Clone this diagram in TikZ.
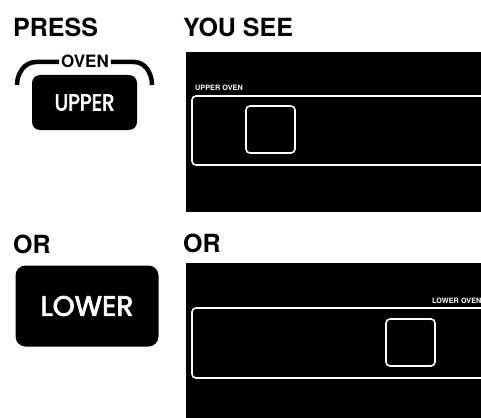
\documentclass[tikz,border=0pt]{standalone}
\usepackage{fontspec}
\setmainfont{TeX Gyre Heros}
\newfontfamily\keyfont[FakeBold=3]{Poppins}
\newfontfamily\narrowkey[FakeBold=3,FakeStretch=0.88]{Poppins}
\usetikzlibrary{positioning}

\begin{document}
\begin{tikzpicture}[x=1pt,y=-1pt,
  head/.style={font=\bfseries\fontsize{25}{25}\selectfont,anchor=base west,inner sep=0pt},
  key/.style={fill=black,text=white,rounded corners=8pt,inner sep=0pt},
  screen/.style={fill=black},
  window/.style={draw=white,line width=1.6pt,rounded corners=4pt},
  tag/.style={text=white,font=\bfseries\fontsize{7.3}{7.3}\selectfont,inner sep=0pt,anchor=base west},
  brace/.style={line width=4.5pt}
]
  \useasboundingbox (0,0) rectangle (481,417);
  \clip (0,0) rectangle (481,417);

  % headings
  \node[head] (press) at (13,36.5) {PRESS};
  \node[head] (yousee) at (183,36.5) {YOU SEE};
  \node[head] (orl) at (13,253) {OR};
  \node[head] (orr) at (183,252) {OR};

  % oven keys
  \node[inner sep=0pt,anchor=base,font=\bfseries\fontsize{17}{17}\selectfont] (oven) at (85,67.5) {OVEN};
  \node[key,minimum width=105pt,minimum height=55pt] (upper) at (84.5,102.5)
    {\narrowkey\fontsize{23}{23}\selectfont UPPER};
  \node[key,rounded corners=10pt,minimum width=143pt,minimum height=81pt] (lower) at (87,306)
    {\keyfont\fontsize{28}{28}\selectfont LOWER};

  \coordinate (lend) at (17,85);
  \coordinate (rend) at (152,85);
  \draw[brace] (lend) to[out=90,in=180] (36,62) -- ([xshift=-2pt]oven.west |- 0,62);
  \draw[brace] ([xshift=2pt]oven.east |- 0,62) -- (134,62) to[out=0,in=90] (rend);

  % upper display
  \fill[screen] (186,52) rectangle (490,212);
  \draw[window] (192,96) rectangle (490,165);
  \draw[window] (246,106) rectangle (295,153);
  \node[tag] (uptag) at (195,91) {UPPER OVEN};

  % lower display
  \fill[screen] (186,263) rectangle (490,420);
  \draw[window] (192,308) rectangle (490,378);
  \draw[window] (386,319) rectangle (435,366);
  \node[tag] (lotag) at (432,303) {LOWER OVEN};
\end{tikzpicture}
\end{document}
